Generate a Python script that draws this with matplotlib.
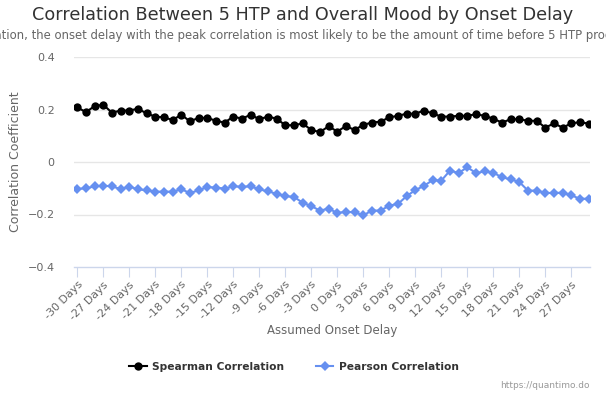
import matplotlib
matplotlib.use("Agg")
import matplotlib.pyplot as plt
import numpy as np

days = list(range(-30, 30))
spearman = [0.208, 0.190, 0.213, 0.218, 0.188, 0.196, 0.196, 0.203, 0.185, 0.173,
            0.170, 0.160, 0.180, 0.155, 0.168, 0.168, 0.157, 0.150, 0.173, 0.165,
            0.180, 0.163, 0.173, 0.165, 0.140, 0.140, 0.147, 0.122, 0.114, 0.136,
            0.116, 0.137, 0.122, 0.142, 0.150, 0.154, 0.170, 0.176, 0.184, 0.184,
            0.196, 0.185, 0.173, 0.173, 0.176, 0.176, 0.182, 0.176, 0.165, 0.150,
            0.163, 0.163, 0.157, 0.157, 0.131, 0.147, 0.131, 0.147, 0.152, 0.146]
pearson = [-0.103, -0.100, -0.093, -0.090, -0.093, -0.103, -0.094, -0.104, -0.108, -0.113,
           -0.113, -0.113, -0.104, -0.118, -0.108, -0.095, -0.098, -0.101, -0.093, -0.094,
           -0.093, -0.104, -0.112, -0.121, -0.130, -0.133, -0.155, -0.168, -0.185, -0.178,
           -0.194, -0.190, -0.192, -0.203, -0.185, -0.185, -0.166, -0.160, -0.130, -0.107,
           -0.091, -0.069, -0.071, -0.033, -0.042, -0.020, -0.042, -0.036, -0.041, -0.058,
           -0.066, -0.076, -0.109, -0.109, -0.118, -0.118, -0.117, -0.127, -0.140, -0.140]
tick_days = list(range(-30, 28, 3))
tick_labels = [f"{d} Days" for d in tick_days]
y_ticks = [-0.4, -0.2, 0, 0.2, 0.4]
y_labels = ["−0.4", "−0.2", "0", "0.2", "0.4"]

W, H = 606, 399
fig = plt.figure(figsize=(W / 100, H / 100), dpi=100)
ax = fig.add_axes([74 / W, (H - 267) / H, (590 - 74) / W, (267 - 57) / H])

ax.plot(days, spearman, color="black", lw=1.5, marker="o", ms=6, mew=0, zorder=3,
        label="Spearman Correlation")
ax.plot(days, pearson, color="#6690f0", lw=1.5, marker="D", ms=5, mew=0, zorder=3,
        label="Pearson Correlation")

ax.set_xlim(-30.38, 29.16)
ax.set_ylim(-0.4, 0.4)
ax.set_yticks(y_ticks)
ax.set_yticklabels(y_labels)
ax.set_xticks(tick_days)
ax.set_xticklabels(tick_labels, rotation=45, ha="right", va="top",
                   rotation_mode="anchor")
for y in [0, 0.2, 0.4, -0.2]:
    ax.axhline(y, color="#e6e6e6", lw=1, zorder=0)
for s in ["top", "right", "left"]:
    ax.spines[s].set_visible(False)
ax.spines["bottom"].set_color("#ccd6eb")
ax.spines["bottom"].set_linewidth(1)
ax.tick_params(axis="x", length=7, color="#ccd6eb", labelsize=8, labelcolor="#666666", pad=2)
ax.tick_params(axis="y", length=0, labelsize=8, labelcolor="#666666", pad=14)

ax.set_ylabel("Correlation Coefficient", fontsize=9, color="#666666")
ax.yaxis.set_label_coords((22 - 74) / 516, 0.5)
ax.set_xlabel("Assumed Onset Delay", fontsize=8.5, color="#666666", labelpad=2)

fig.text(0.5, 1 - 15 / H, "Correlation Between 5 HTP and Overall Mood by Onset Delay",
         ha="center", va="center", fontsize=12.7, color="#333333")
fig.text(0.5, 1 - 36 / H,
         "Assuming causation, the onset delay with the peak correlation is most likely to be the amount of time before 5 HTP produces an effect.",
         ha="center", va="center", fontsize=8.4, color="#666666")

leg = fig.legend(loc="center", bbox_to_anchor=(294 / W, 1 - 367 / H), ncol=2, frameon=False,
                 prop={"weight": "bold", "size": 7.7}, handlelength=1.6, columnspacing=3,
                 handletextpad=0.5, labelcolor="#333333")

fig.text(590 / W, 1 - 386 / H, "https://quantimo.do", ha="right", va="center",
         fontsize=6.5, color="#999999")

fig.savefig("out.png", dpi=100)
